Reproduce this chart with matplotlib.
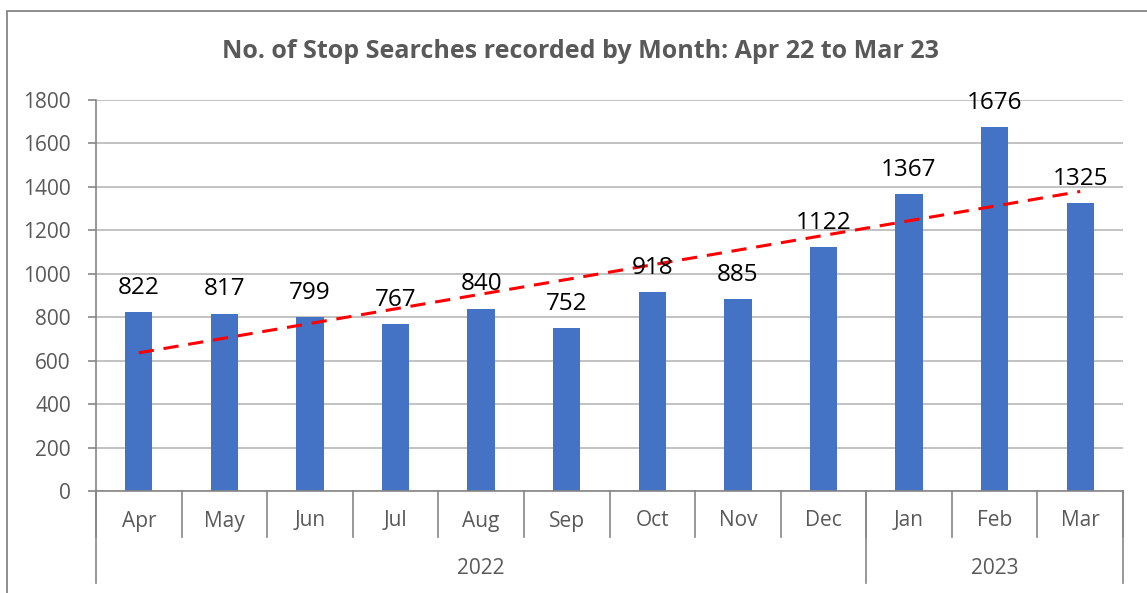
import numpy as np
import matplotlib
matplotlib.use("Agg")
import matplotlib.pyplot as plt
from matplotlib.patches import Rectangle

# chart data
months = ["Apr", "May", "Jun", "Jul", "Aug", "Sep", "Oct", "Nov", "Dec", "Jan", "Feb", "Mar"]
years = ["2022", "2023"]
months_per_year = [9, 3]
searches = [822, 817, 799, 767, 840, 752, 918, 885, 1122, 1367, 1676, 1325]
yticks = [0, 200, 400, 600, 800, 1000, 1200, 1400, 1600, 1800]

plt.rcParams['font.family'] = ['Open Sans', 'DejaVu Sans']

fig = plt.figure(figsize=(11.47, 5.93), dpi=100)
W, H = 1147, 593
ax = fig.add_axes([96 / W, 1 - 491 / H, (1123 - 96) / W, (491 - 100) / H])

x = np.arange(len(months))
ax.bar(x, searches, width=0.32, color="#4472C4", zorder=2)

# linear trend line (like Excel's)
slope, icept = np.polyfit(x, searches, 1)
ax.plot(x, slope * x + icept, color="#FF0000", lw=2.2, ls=(0, (5, 3.2)), zorder=3)

for xi, v in zip(x, searches):
    ax.annotate(str(v), (xi, v), xytext=(0, 13), textcoords="offset points",
                ha="center", va="baseline", fontsize=17.5, color="black", zorder=4)

ax.set_xlim(-0.5, len(months) - 0.5)
ax.set_ylim(0, 1800)
ax.set_yticks(yticks)
ax.yaxis.grid(True, color="#B8B8B8", lw=1.2, zorder=0)
ax.tick_params(axis="y", labelsize=15, labelcolor="#595959", color="#868686",
               length=6, width=1.2, pad=12)
ax.set_xticks([])
for s in ["top", "right"]:
    ax.spines[s].set_visible(False)
ax.spines["left"].set_color("#868686")
ax.spines["left"].set_linewidth(1.2)
ax.spines["bottom"].set_color("#868686")
ax.spines["bottom"].set_linewidth(1.2)

# two-level category axis
ah = 491 - 100
trans = ax.get_xaxis_transform()
month_y = -(521 - 491) / ah
year_y = -(568 - 491) / ah
sep_m = -(537 - 491) / ah
sep_y = -(583 - 491) / ah
for xi, m in zip(x, months):
    ax.text(xi, month_y, m, transform=trans, ha="center", va="center",
            fontsize=15, color="#595959")
for b in np.arange(len(months) + 1) - 0.5:
    ax.plot([b, b], [0, sep_m], transform=trans, color="#868686", lw=1.2, clip_on=False)
start = -0.5
for yr, n in zip(years, months_per_year):
    ax.text(start + n / 2, year_y, yr, transform=trans, ha="center", va="center",
            fontsize=15, color="#595959")
    ax.plot([start, start], [0, sep_y], transform=trans, color="#868686", lw=1.2, clip_on=False)
    start += n
ax.plot([start, start], [0, sep_y], transform=trans, color="#868686", lw=1.2, clip_on=False)

fig.text(580 / W, 1 - 51 / H, "No. of Stop Searches recorded by Month: Apr 22 to Mar 23",
         ha="center", va="center", fontsize=18, fontweight="bold", color="#595959")

# chart frame, running off the right and bottom edges
fig.patches.append(Rectangle((7 / W, -0.1), 1.2, 1 - 11 / H + 0.1, transform=fig.transFigure,
                             fill=False, edgecolor="#868686", lw=1.3))

fig.savefig("out.png", dpi=100)
